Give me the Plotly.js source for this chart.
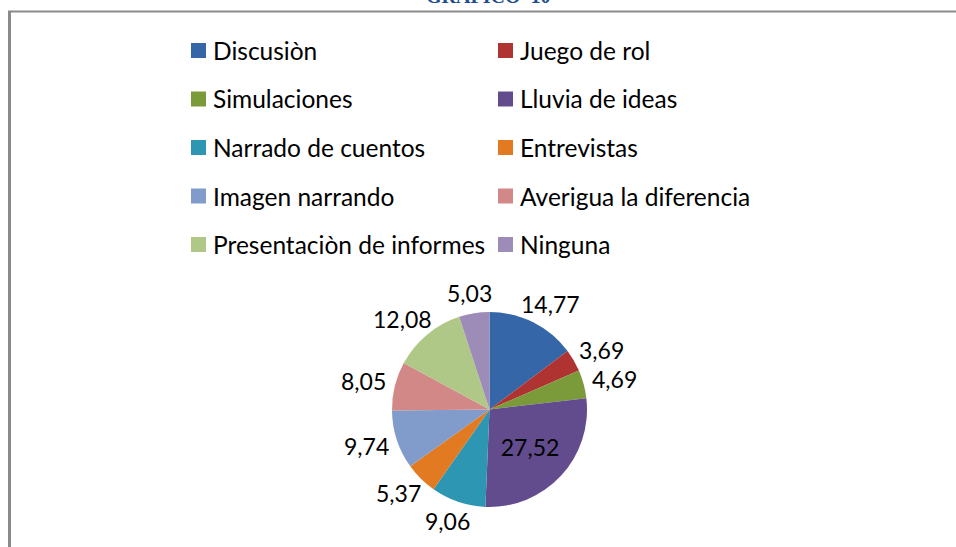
<!DOCTYPE html>
<html>
<head>
<meta charset="utf-8">
<script src="https://cdn.plot.ly/plotly-3.0.1.min.js"></script>
<style>
  html, body { margin: 0; padding: 0; background: #fff; }
  #chart { width: 956px; height: 547px; }
</style>
</head>
<body>
<div id="chart"></div>
<script>
// datos del grafico 10 (porcentajes)
var tecnicas = ['Discusiòn', 'Juego de rol', 'Simulaciones', 'Lluvia de ideas',
    'Narrado de cuentos', 'Entrevistas', 'Imagen narrando',
    'Averigua la diferencia', 'Presentaciòn de informes', 'Ninguna'];
var porcentajes = [14.77, 3.69, 4.69, 27.52, 9.06, 5.37, 9.74, 8.05, 12.08, 5.03];
var colores = ['#3466A8', '#AF3431', '#7B9B3A', '#634C8E', '#2D96B3',
    '#E27A22', '#819CCB', '#D28886', '#B0C887', '#9D8BB8'];

var W = 956, H = 547;
var fuente = 'Lato, "Open Sans", sans-serif';
var tamLeyenda = 24.5, tamEtiq = 23;

// etiquetas con coma decimal
var etiquetas = porcentajes.map(function (v) { return v.toFixed(2).replace('.', ','); });
// solo el sector grande lleva el numero adentro
var dentro = porcentajes.map(function (v) { return v > 20; });

var cx = 489.5, cy = 409.5, r = 97.5;

var trace = {
    type: 'pie',
    labels: tecnicas,
    values: porcentajes,
    text: etiquetas,
    textinfo: 'text',
    textposition: dentro.map(function (d) { return d ? 'inside' : 'none'; }),
    insidetextorientation: 'horizontal',
    sort: false,
    direction: 'clockwise',
    rotation: 0,
    marker: { colors: colores, line: { width: 0 } },
    textfont: { family: fuente, size: tamEtiq, color: '#000' },
    showlegend: false,
    automargin: false,
    domain: {
        x: [(cx - r) / W, (cx + r) / W],
        y: [(H - cy - r) / H, (H - cy + r) / H]
    }
};

var shapes = [];
var annotations = [];

// etiquetas exteriores, al estilo de Excel (pegadas al borde del sector)
var total = porcentajes.reduce(function (a, b) { return a + b; }, 0);
var acum = 0;
for (var k = 0; k < porcentajes.length; k++) {
    var medio = (acum + porcentajes[k] / 2) / total * 2 * Math.PI;
    acum += porcentajes[k];
    if (dentro[k]) continue;
    var dx = Math.sin(medio), dy = -Math.cos(medio);
    var gap = 8;
    var px = cx + dx * (r + gap), py = cy + dy * (r + gap);
    var w = etiquetas[k].length * 0.52 * tamEtiq, h = tamEtiq * 1.1;
    annotations.push({
        xref: 'paper', yref: 'paper',
        x: px / W, y: 1 - py / H,
        xanchor: 'center', yanchor: 'middle',
        xshift: dx * w / 2, yshift: -dy * h / 2,
        text: etiquetas[k], showarrow: false,
        font: { family: fuente, size: tamEtiq, color: '#000' }
    });
}

// leyenda manual en dos columnas
for (var i = 0; i < tecnicas.length; i++) {
    var col = i % 2;
    var fila = Math.floor(i / 2);
    var x0 = col === 0 ? 191 : 498;
    var yc = 50.5 + fila * 48.5;
    shapes.push({
        type: 'rect', xref: 'paper', yref: 'paper',
        x0: x0 / W, x1: (x0 + 15) / W,
        y0: 1 - (yc - 7.5) / H, y1: 1 - (yc + 7.5) / H,
        fillcolor: colores[i], line: { width: 0 }
    });
    annotations.push({
        xref: 'paper', yref: 'paper',
        x: (x0 + 20) / W, y: 1 - yc / H,
        xanchor: 'left', yanchor: 'middle',
        text: tecnicas[i], showarrow: false,
        font: { family: fuente, size: tamLeyenda, color: '#000' }
    });
}

// titulo cortado arriba
annotations.push({
    xref: 'paper', yref: 'paper', x: 488 / W, y: 1 + 4 / H,
    xanchor: 'center', yanchor: 'middle', showarrow: false,
    text: '<b>GRAFICO  10</b>',
    font: { family: '"Liberation Serif", serif', size: 20, color: '#1F4E8C' }
});

// marco gris
shapes.push({ type: 'line', xref: 'paper', yref: 'paper',
    x0: 8 / W, x1: 1, y0: 1 - 11.5 / H, y1: 1 - 11.5 / H,
    line: { color: '#8a8a8a', width: 2 } });
shapes.push({ type: 'line', xref: 'paper', yref: 'paper',
    x0: 9.5 / W, x1: 9.5 / W, y0: 1 - 11 / H, y1: 0,
    line: { color: '#8a8a8a', width: 3 } });

var layout = {
    width: W,
    height: H,
    margin: { l: 0, r: 0, t: 0, b: 0 },
    paper_bgcolor: '#fff',
    plot_bgcolor: '#fff',
    showlegend: false,
    shapes: shapes,
    annotations: annotations
};

Plotly.newPlot('chart', [trace], layout, { displayModeBar: false, staticPlot: true });
</script>
</body>
</html>
